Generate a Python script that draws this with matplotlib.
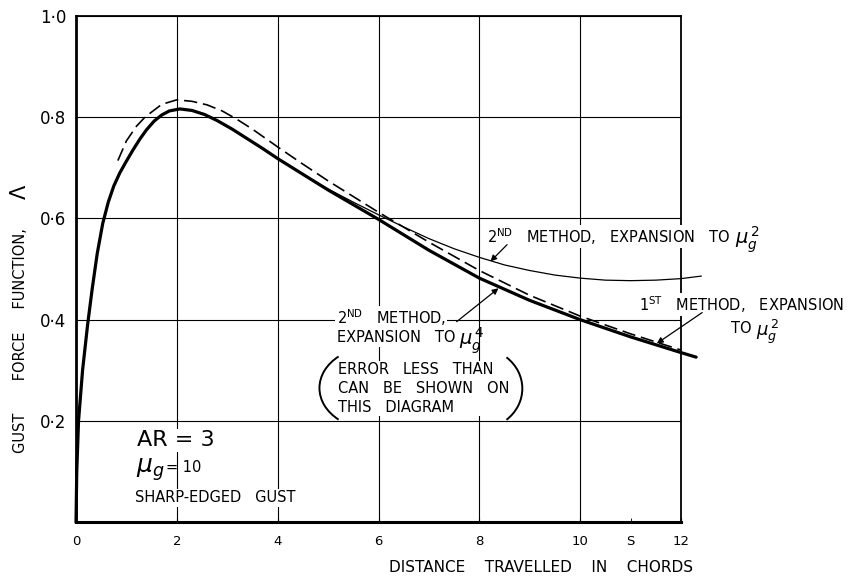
import matplotlib.pyplot as plt
from matplotlib.patches import Arc
from matplotlib.transforms import ScaledTranslation

# distance travelled (chords) against gust force function
s_exact = [0, 0.015, 0.05, 0.13, 0.23, 0.32, 0.42, 0.53, 0.64, 0.75, 0.87, 1.0, 1.13,
           1.27, 1.4, 1.55, 1.7, 1.85, 2.06, 2.3, 2.55, 2.8, 3.1, 3.4, 3.7, 4.0, 4.5,
           5.0, 5.5, 6.0, 7.0, 8.0, 9.0, 10.0, 11.0, 12.0, 12.3]
lam_exact = [0, 0.1, 0.2, 0.3, 0.39, 0.46, 0.53, 0.59, 0.632, 0.664, 0.69, 0.713,
             0.735, 0.757, 0.775, 0.792, 0.804, 0.812, 0.816, 0.813, 0.805, 0.793,
             0.776, 0.757, 0.738, 0.718, 0.687, 0.656, 0.627, 0.598, 0.537, 0.482,
             0.438, 0.40, 0.366, 0.335, 0.326]

# 1st method, expansion to mu_g^2
s_first = [0.83, 1.0, 1.2, 1.37, 1.7, 2.0, 2.3, 2.6, 2.9, 3.2, 3.5, 4.0, 4.5, 5.0,
           6.0, 7.0, 8.0, 9.0, 10.0, 11.0, 12.0]
lam_first = [0.714, 0.753, 0.782, 0.80, 0.825, 0.834, 0.831, 0.824, 0.812, 0.795,
             0.776, 0.741, 0.707, 0.674, 0.612, 0.553, 0.497, 0.448, 0.407, 0.372,
             0.34]

# 2nd method, expansion to mu_g^2
s_second = [4.5, 5.0, 5.5, 6.0, 6.5, 7.0, 7.5, 8.0, 8.5, 9.0, 9.5, 10.0, 10.5, 11.0,
            11.5, 12.0, 12.4]
lam_second = [0.687, 0.658, 0.632, 0.607, 0.583, 0.56, 0.54, 0.523, 0.508, 0.497,
              0.488, 0.482, 0.478, 0.477, 0.478, 0.481, 0.486]

x_ticks = [0, 2, 4, 6, 8, 10, 12]
x_labels = ['0', '2', '4', '6', '8', '10', '12']
y_ticks = [0.2, 0.4, 0.6, 0.8, 1.0]
y_labels = ['0·2', '0·4', '0·6', '0·8', '1·0']

plt.rcParams['font.family'] = ['DejaVu Sans']
plt.rcParams['mathtext.fontset'] = 'dejavusans'

fig = plt.figure(figsize=(8.55, 5.80), dpi=100)
ax = fig.add_axes([0.0889, 0.0995, 0.7076, 0.8734])
ax.set_xlim(0, 12)
ax.set_ylim(0, 1)

ax.set_xticks(x_ticks, x_labels)
ax.set_xticks([11], ['S'], minor=True)
ax.set_yticks(y_ticks, y_labels)
ax.tick_params(axis='x', which='both', length=3, direction='in', pad=9, labelsize=9.5)
ax.tick_params(axis='y', length=0, pad=7, labelsize=12)
ax.grid(True, which='major', color='black', lw=0.8)
ax.set_axisbelow(True)
for side, lw in [('left', 2.0), ('bottom', 2.2), ('top', 1.3), ('right', 1.3)]:
    ax.spines[side].set_linewidth(lw)

ax.plot(s_exact, lam_exact, color='black', lw=2.3, clip_on=False, zorder=4,
        solid_capstyle='round', solid_joinstyle='round')
ax.plot(s_first, lam_first, color='black', lw=1.2, dashes=(8, 3.5), clip_on=False,
        zorder=4)
ax.plot(s_second, lam_second, color='black', lw=0.9, clip_on=False, zorder=4)

box = dict(facecolor='white', edgecolor='none', pad=1)
txt = dict(fontsize=10.5, va='center', ha='left', bbox=box, zorder=3)
arrow = dict(arrowstyle='-|>', color='black', lw=0.9, mutation_scale=9,
             shrinkA=0, shrinkB=0)


def mu_after(label, power, size=14):
    # handwritten-style mu_g placed right after a text label
    ax.annotate(r'$\mu_g^{\,%s}$' % power, xy=(1, 0.5), xycoords=label,
                xytext=(3, -2), textcoords='offset points', ha='left', va='center',
                fontsize=size, zorder=5)


# thin curve label
t = ax.text(8.16, 0.564, r'2$^{\rm ND}$   METHOD,   EXPANSION   TO', **txt)
mu_after(t, '2')
ax.annotate('', xy=(8.22, 0.515), xytext=(8.55, 0.548), arrowprops=arrow, zorder=5)

# exact curve label
ax.text(5.17, 0.403, r'2$^{\rm ND}$   METHOD,', **txt)
t = ax.text(5.17, 0.364, 'EXPANSION   TO', **txt)
mu_after(t, '4')
ax.annotate('', xy=(8.38, 0.462), xytext=(7.55, 0.396), arrowprops=arrow, zorder=5)
ax.text(5.19, 0.264, 'ERROR   LESS   THAN\nCAN   BE   SHOWN   ON\nTHIS   DIAGRAM',
        linespacing=1.32, **txt)

# brackets round the note, drawn in inches so they keep their shape
for cx, cy, w, t1, t2 in [(5.88, 0.265, 1.06, 137, 223), (7.96, 0.264, 0.90, -47, 47)]:
    ax.add_patch(Arc((0, 0), w, 0.82, theta1=t1, theta2=t2, color='black', lw=1.4,
                     zorder=5,
                     transform=fig.dpi_scale_trans
                     + ScaledTranslation(cx, cy, ax.transData)))

# dashed curve label
ax.text(11.17, 0.43, r'1$^{\rm ST}$   METHOD,   EXPANSION', **txt)
t = ax.text(12.99, 0.382, 'TO', **txt)
mu_after(t, '2', size=13)
ax.annotate('', xy=(11.52, 0.353), xytext=(12.42, 0.414), arrowprops=arrow, zorder=5)

# case data
ax.text(1.21, 0.162, 'AR = 3', fontsize=16, va='center', ha='left', bbox=box,
        zorder=3)
t = ax.text(1.19, 0.103, r'$\mu_g$', fontsize=18, va='center', ha='left', bbox=box,
            zorder=3)
ax.annotate('= 10', xy=(1, 0.5), xycoords=t, xytext=(1, 2), textcoords='offset points',
            ha='left', va='center', fontsize=10.5)
ax.text(1.17, 0.048, 'SHARP-EDGED   GUST', **txt)

fig.text(0.633, 0.021, 'DISTANCE    TRAVELLED    IN    CHORDS', fontsize=11,
         ha='center', va='center')
fig.text(0.0234, 0.219, 'GUST       FORCE     FUNCTION,', fontsize=10.5,
         rotation=90, ha='center', va='bottom')
fig.text(0.0234, 0.669, 'Λ', fontsize=15, rotation=90, ha='center', va='center')

fig.savefig('out.png', dpi=100)
